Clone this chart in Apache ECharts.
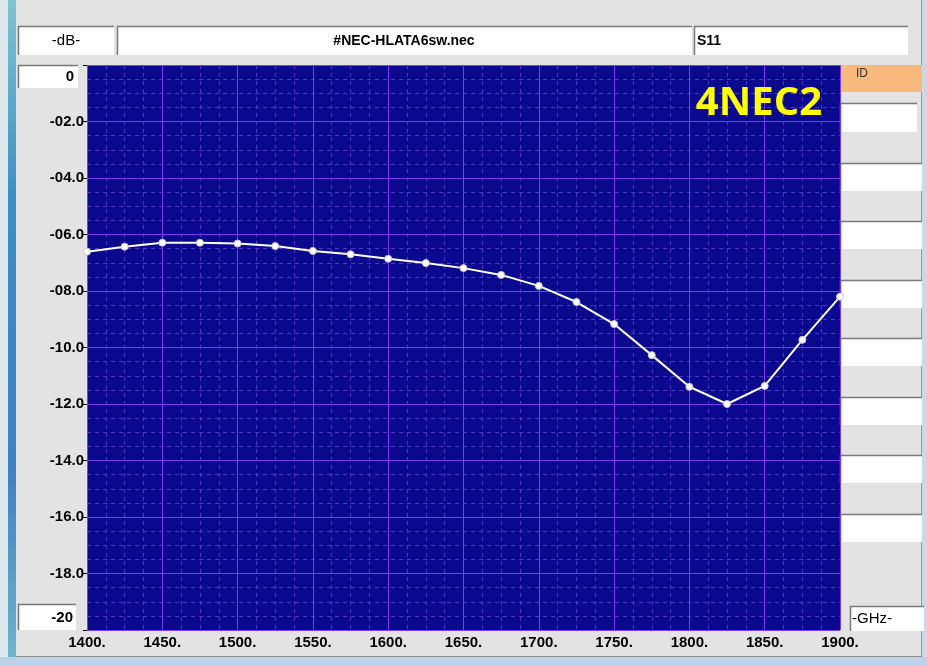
<!DOCTYPE html>
<html>
<head>
<meta charset="utf-8">
<script src="https://cdn.jsdelivr.net/npm/echarts@6/dist/echarts.min.js"></script>
<style>
html,body{margin:0;padding:0;background:#e3e3e3;}
#chart{width:927px;height:666px;}
</style>
</head>
<body>
<div id="chart"></div>
<script>
// ---- data ----
const freqs = [1400,1425,1450,1475,1500,1525,1550,1575,1600,1625,1650,1675,1700,1725,1750,1775,1800,1825,1850,1875,1900];
const s11dB = [-6.61,-6.43,-6.29,-6.29,-6.32,-6.41,-6.58,-6.70,-6.86,-7.01,-7.19,-7.43,-7.82,-8.39,-9.17,-10.27,-11.39,-12.0,-11.36,-9.73,-8.2];
const xTicks = [1400,1450,1500,1550,1600,1650,1700,1750,1800,1850,1900];
const yTicks = [0,-2,-4,-6,-8,-10,-12,-14,-16,-18,-20];
const headerUnit = '-dB-';
const headerTitle = '#NEC-HLATA6sw.nec';
const headerParam = 'S11';
const yTopLabel = '0';
const yBottomLabel = '-20';
const xUnitLabel = '-GHz-';
const sideHeader = 'ID';
const watermark = '4NEC2';

const chart = echarts.init(document.getElementById('chart'), null, {renderer:'canvas'});
const FONT = '"Liberation Sans", Arial, sans-serif';

function sunkenBox(x, y, w, h){
  return [
    {type:'rect', shape:{x:x, y:y, width:w, height:h}, style:{fill:'#ffffff'}, silent:true},
    {type:'polyline', shape:{points:[[x+0.5,y+h],[x+0.5,y+0.5],[x+w,y+0.5]]}, style:{stroke:'#7a7a7a', lineWidth:1.5, fill:null}, silent:true}
  ];
}

const graphics = [];
// window frame pieces
graphics.push({type:'rect', shape:{x:0,y:0,width:8,height:666}, style:{fill:'#dde8ec'}, silent:true});
graphics.push({type:'rect', shape:{x:8,y:0,width:8,height:666}, style:{fill:new echarts.graphic.LinearGradient(0,0,0,1,[{offset:0,color:'#7fc3cf'},{offset:0.3,color:'#3b8ec4'},{offset:0.7,color:'#3f7fc4'},{offset:1,color:'#6fb7c9'}])}, silent:true});
graphics.push({type:'rect', shape:{x:922,y:0,width:5,height:666}, style:{fill:'#c9d9e6'}, silent:true});
graphics.push({type:'line', shape:{x1:921.5,y1:0,x2:921.5,y2:656}, style:{stroke:'#9a9a9a', lineWidth:1}, silent:true});
graphics.push({type:'rect', shape:{x:0,y:657,width:927,height:9}, style:{fill:'#bcd2e8'}, silent:true});
graphics.push({type:'line', shape:{x1:16,y1:656.5,x2:922,y2:656.5}, style:{stroke:'#8e8e8e', lineWidth:1}, silent:true});

// header boxes
graphics.push(...sunkenBox(18,26,96,29));
graphics.push(...sunkenBox(117,26,575,29));
graphics.push(...sunkenBox(694,26,214,29));
graphics.push({type:'text', style:{x:66,y:41,text:headerUnit,font:'15px '+FONT,fill:'#000',textAlign:'center',textVerticalAlign:'middle'}, silent:true});
graphics.push({type:'text', style:{x:404,y:41,text:headerTitle,font:'bold 14px '+FONT,fill:'#000',textAlign:'center',textVerticalAlign:'middle'}, silent:true});
graphics.push({type:'text', style:{x:697,y:41,text:headerParam,font:'bold 14px '+FONT,fill:'#000',textAlign:'left',textVerticalAlign:'middle'}, silent:true});

// y extreme boxes
graphics.push(...sunkenBox(18,65,60,23));
graphics.push({type:'text', style:{x:74,y:77,text:yTopLabel,font:'bold 15px '+FONT,fill:'#000',textAlign:'right',textVerticalAlign:'middle'}, silent:true});
graphics.push(...sunkenBox(18,604,58,26));
graphics.push({type:'text', style:{x:73,y:618,text:yBottomLabel,font:'bold 15px '+FONT,fill:'#000',textAlign:'right',textVerticalAlign:'middle'}, silent:true});

// GHz box
graphics.push(...sunkenBox(850,606,74,25));
graphics.push({type:'text', style:{x:852,y:619,text:xUnitLabel,font:'15px '+FONT,fill:'#000',textAlign:'left',textVerticalAlign:'middle'}, silent:true});

// right side panel
graphics.push({type:'rect', shape:{x:840,y:65,width:82,height:27}, style:{fill:'#f8b97c'}, silent:true});
graphics.push({type:'text', style:{x:856,y:74,text:sideHeader,font:'12px '+FONT,fill:'#333',textAlign:'left',textVerticalAlign:'middle'}, silent:true});
graphics.push(...sunkenBox(840,103,77,29));
[163,221,280,338,397,455,514].forEach(t => graphics.push(...sunkenBox(840,t,82,28)));

// watermark
graphics.push({type:'text', z:100, style:{x:822,y:104,text:watermark,font:'bold 40px "Open Sans", '+FONT,fill:'#ffff00',textAlign:'right',textVerticalAlign:'middle'}, silent:true});

const option = {
  backgroundColor:'#e3e3e3',
  animation:false,
  grid:{left:87, top:65, width:753, height:565, show:true, backgroundColor:'#0b0a8e', borderWidth:0},
  xAxis:{
    type:'value', min:xTicks[0], max:xTicks[xTicks.length-1], interval:50,
    axisLine:{show:false}, axisTick:{show:false},
    axisLabel:{formatter:v=>v+'.', color:'#000', fontFamily:FONT, fontWeight:'bold', fontSize:15, margin:5},
    splitLine:{show:true, lineStyle:{color:'#7a3cf0', width:1}},
    minorTick:{show:false, splitNumber:4},
    minorSplitLine:{show:true, lineStyle:{color:'#4f34c8', width:1, type:[4,4]}}
  },
  yAxis:{
    type:'value', min:yTicks[yTicks.length-1], max:yTicks[0], interval:2,
    axisLine:{show:false},
    axisTick:{show:true, length:4, lineStyle:{color:'#000', width:1}},
    axisLabel:{formatter:v=>(v===0||v===-20)?'':'-'+String(Math.abs(v)).padStart(2,'0')+'.0', color:'#000', fontFamily:FONT, fontWeight:'bold', fontSize:15, margin:3},
    splitLine:{show:true, lineStyle:{color:'#7a3cf0', width:1}},
    minorTick:{show:false, splitNumber:4},
    minorSplitLine:{show:true, lineStyle:{color:'#4f34c8', width:1, type:[4,4]}}
  },
  series:[{
    type:'line',
    data:freqs.map((f,i)=>[f,s11dB[i]]),
    symbol:'circle', symbolSize:7, showAllSymbol:true,
    lineStyle:{color:'#ffffff', width:2},
    itemStyle:{color:'#ffffff', borderColor:'#c8c8d8', borderWidth:1},
    clip:false, z:5
  }],
  graphic:graphics
};
chart.setOption(option);
</script>
</body>
</html>
